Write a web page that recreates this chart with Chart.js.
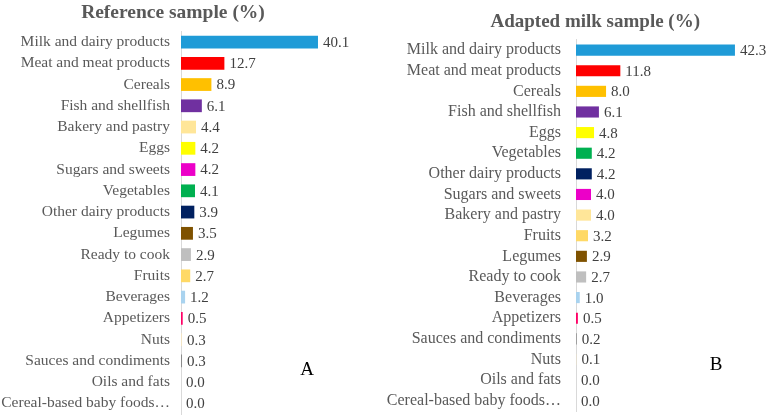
<!DOCTYPE html>
<html>
<head>
<meta charset="utf-8">
<script src="https://cdn.jsdelivr.net/npm/chart.js@4"></script>
<style>
    body { margin: 0; background: #fff; }
    .box { position: absolute; top: 0; width: 384px; height: 416px; }
    #box-a { left: 0; }
    #box-b { left: 384px; }
</style>
</head>
<body>
<div class="box" id="box-a"><canvas id="chart-a"></canvas></div>
<div class="box" id="box-b"><canvas id="chart-b"></canvas></div>
<script>
// data =========================================================//

const refLabels = ['Milk and dairy products', 'Meat and meat products', 'Cereals', 'Fish and shellfish',
    'Bakery and pastry', 'Eggs', 'Sugars and sweets', 'Vegetables', 'Other dairy products', 'Legumes',
    'Ready to cook', 'Fruits', 'Beverages', 'Appetizers', 'Nuts', 'Sauces and condiments', 'Oils and fats',
    'Cereal-based baby foods…'];
const refValues = [40.1, 12.7, 8.9, 6.1, 4.4, 4.2, 4.2, 4.1, 3.9, 3.5, 2.9, 2.7, 1.2, 0.5, 0.3, 0.3, 0.0, 0.0];

const milkLabels = ['Milk and dairy products', 'Meat and meat products', 'Cereals', 'Fish and shellfish',
    'Eggs', 'Vegetables', 'Other dairy products', 'Sugars and sweets', 'Bakery and pastry', 'Fruits',
    'Legumes', 'Ready to cook', 'Beverages', 'Appetizers', 'Sauces and condiments', 'Nuts', 'Oils and fats',
    'Cereal-based baby foods…'];
const milkValues = [42.3, 11.8, 8.0, 6.1, 4.8, 4.2, 4.2, 4.0, 4.0, 3.2, 2.9, 2.7, 1.0, 0.5, 0.2, 0.1, 0.0, 0.0];

// one colour per food group, same in both panels
const groupColors = {
    'Milk and dairy products': '#1f9bd7',
    'Meat and meat products': '#ff0000',
    'Cereals': '#ffc000',
    'Fish and shellfish': '#7030a0',
    'Bakery and pastry': '#ffe699',
    'Eggs': '#ffff00',
    'Sugars and sweets': '#ec00c8',
    'Vegetables': '#00b050',
    'Other dairy products': '#002060',
    'Legumes': '#7f5200',
    'Ready to cook': '#bfbfbf',
    'Fruits': '#ffd966',
    'Beverages': '#a9d3ef',
    'Appetizers': '#ff0066',
    'Nuts': '#f2e4c4',
    'Sauces and condiments': '#8c8c8c',
    'Oils and fats': '#bfbfbf',
    'Cereal-based baby foods…': '#bfbfbf'
};

const FONT = "'Liberation Serif', 'DejaVu Serif', serif";
const TEXT = '#595959';

// value labels + panel letter =========================================================//

const valueLabels = {
    id: 'valueLabels',
    afterDatasetsDraw(chart, args, opts) {
        const ctx = chart.ctx;
        ctx.save();
        ctx.font = '15px ' + FONT;
        ctx.fillStyle = '#404040';
        ctx.textBaseline = 'middle';
        ctx.textAlign = 'left';
        const meta = chart.getDatasetMeta(0);
        meta.data.forEach((bar, i) => {
            const v = chart.data.datasets[0].data[i];
            ctx.fillText(v.toFixed(1), bar.x + 5, bar.y + 1);
        });
        if (opts.letter) {
            ctx.font = '19px ' + FONT;
            ctx.fillStyle = '#000';
            ctx.textAlign = 'center';
            ctx.fillText(opts.letter, opts.lx, opts.ly);
        }
        ctx.restore();
    }
};

function makeConfig(labels, values, title, s) {
    return {
        type: 'bar',
        data: {
            labels: labels,
            datasets: [{
                data: values,
                backgroundColor: labels.map(l => groupColors[l]),
                borderWidth: 0,
                clip: false,
                categoryPercentage: 1,
                barPercentage: s.barPct
            }]
        },
        options: {
            indexAxis: 'y',
            responsive: true,
            maintainAspectRatio: false,
            animation: false,
            layout: { padding: s.padding },
            scales: {
                x: {
                    display: false,
                    min: 0,
                    max: s.max
                },
                y: {
                    afterFit: (scale) => {
                        scale.width = s.axisWidth;
                        // no extra room for the first/last label
                        scale.paddingTop = 0;
                        scale.paddingBottom = 0;
                    },
                    border: { display: true, color: '#d9d9d9', width: 1 },
                    grid: { display: false, drawTicks: false },
                    ticks: {
                        color: TEXT,
                        padding: s.tickPad,
                        autoSkip: false,
                        font: { family: FONT, size: s.tickSize }
                    }
                }
            },
            plugins: {
                legend: { display: false },
                tooltip: { enabled: false },
                title: {
                    display: true,
                    text: title,
                    align: s.titleAlign,
                    color: TEXT,
                    font: { family: FONT, size: s.titleSize, weight: 'bold' },
                    padding: s.titlePad
                },
                valueLabels: { letter: s.letter, lx: s.lx, ly: s.ly }
            }
        },
        plugins: [valueLabels]
    };
}

// Reference chart =========================================================//

const refChart = new Chart(document.getElementById('chart-a'), makeConfig(refLabels, refValues, 'Reference sample (%)', {
    barPct: 0.6,
    max: 48.3,
    axisWidth: 181,
    tickPad: 11,
    tickSize: 15.5,
    padding: { left: 0, right: 38, top: 0, bottom: 2 },
    titleAlign: 'center',
    titleSize: 19.5,
    titlePad: { top: 1, bottom: 7 },
    letter: 'A', lx: 307, ly: 370
}));

// Adapted milk chart =========================================================//

const milkChart = new Chart(document.getElementById('chart-b'), makeConfig(milkLabels, milkValues, 'Adapted milk sample (%)', {
    barPct: 0.54,
    max: 33,
    axisWidth: 192,
    tickPad: 15,
    tickSize: 16,
    padding: { left: 0, right: 68, top: 0, bottom: 5 },
    titleAlign: 'end',
    titleSize: 19,
    titlePad: { top: 11, bottom: 6 },
    letter: 'B', lx: 332, ly: 365
}));
</script>
</body>
</html>
